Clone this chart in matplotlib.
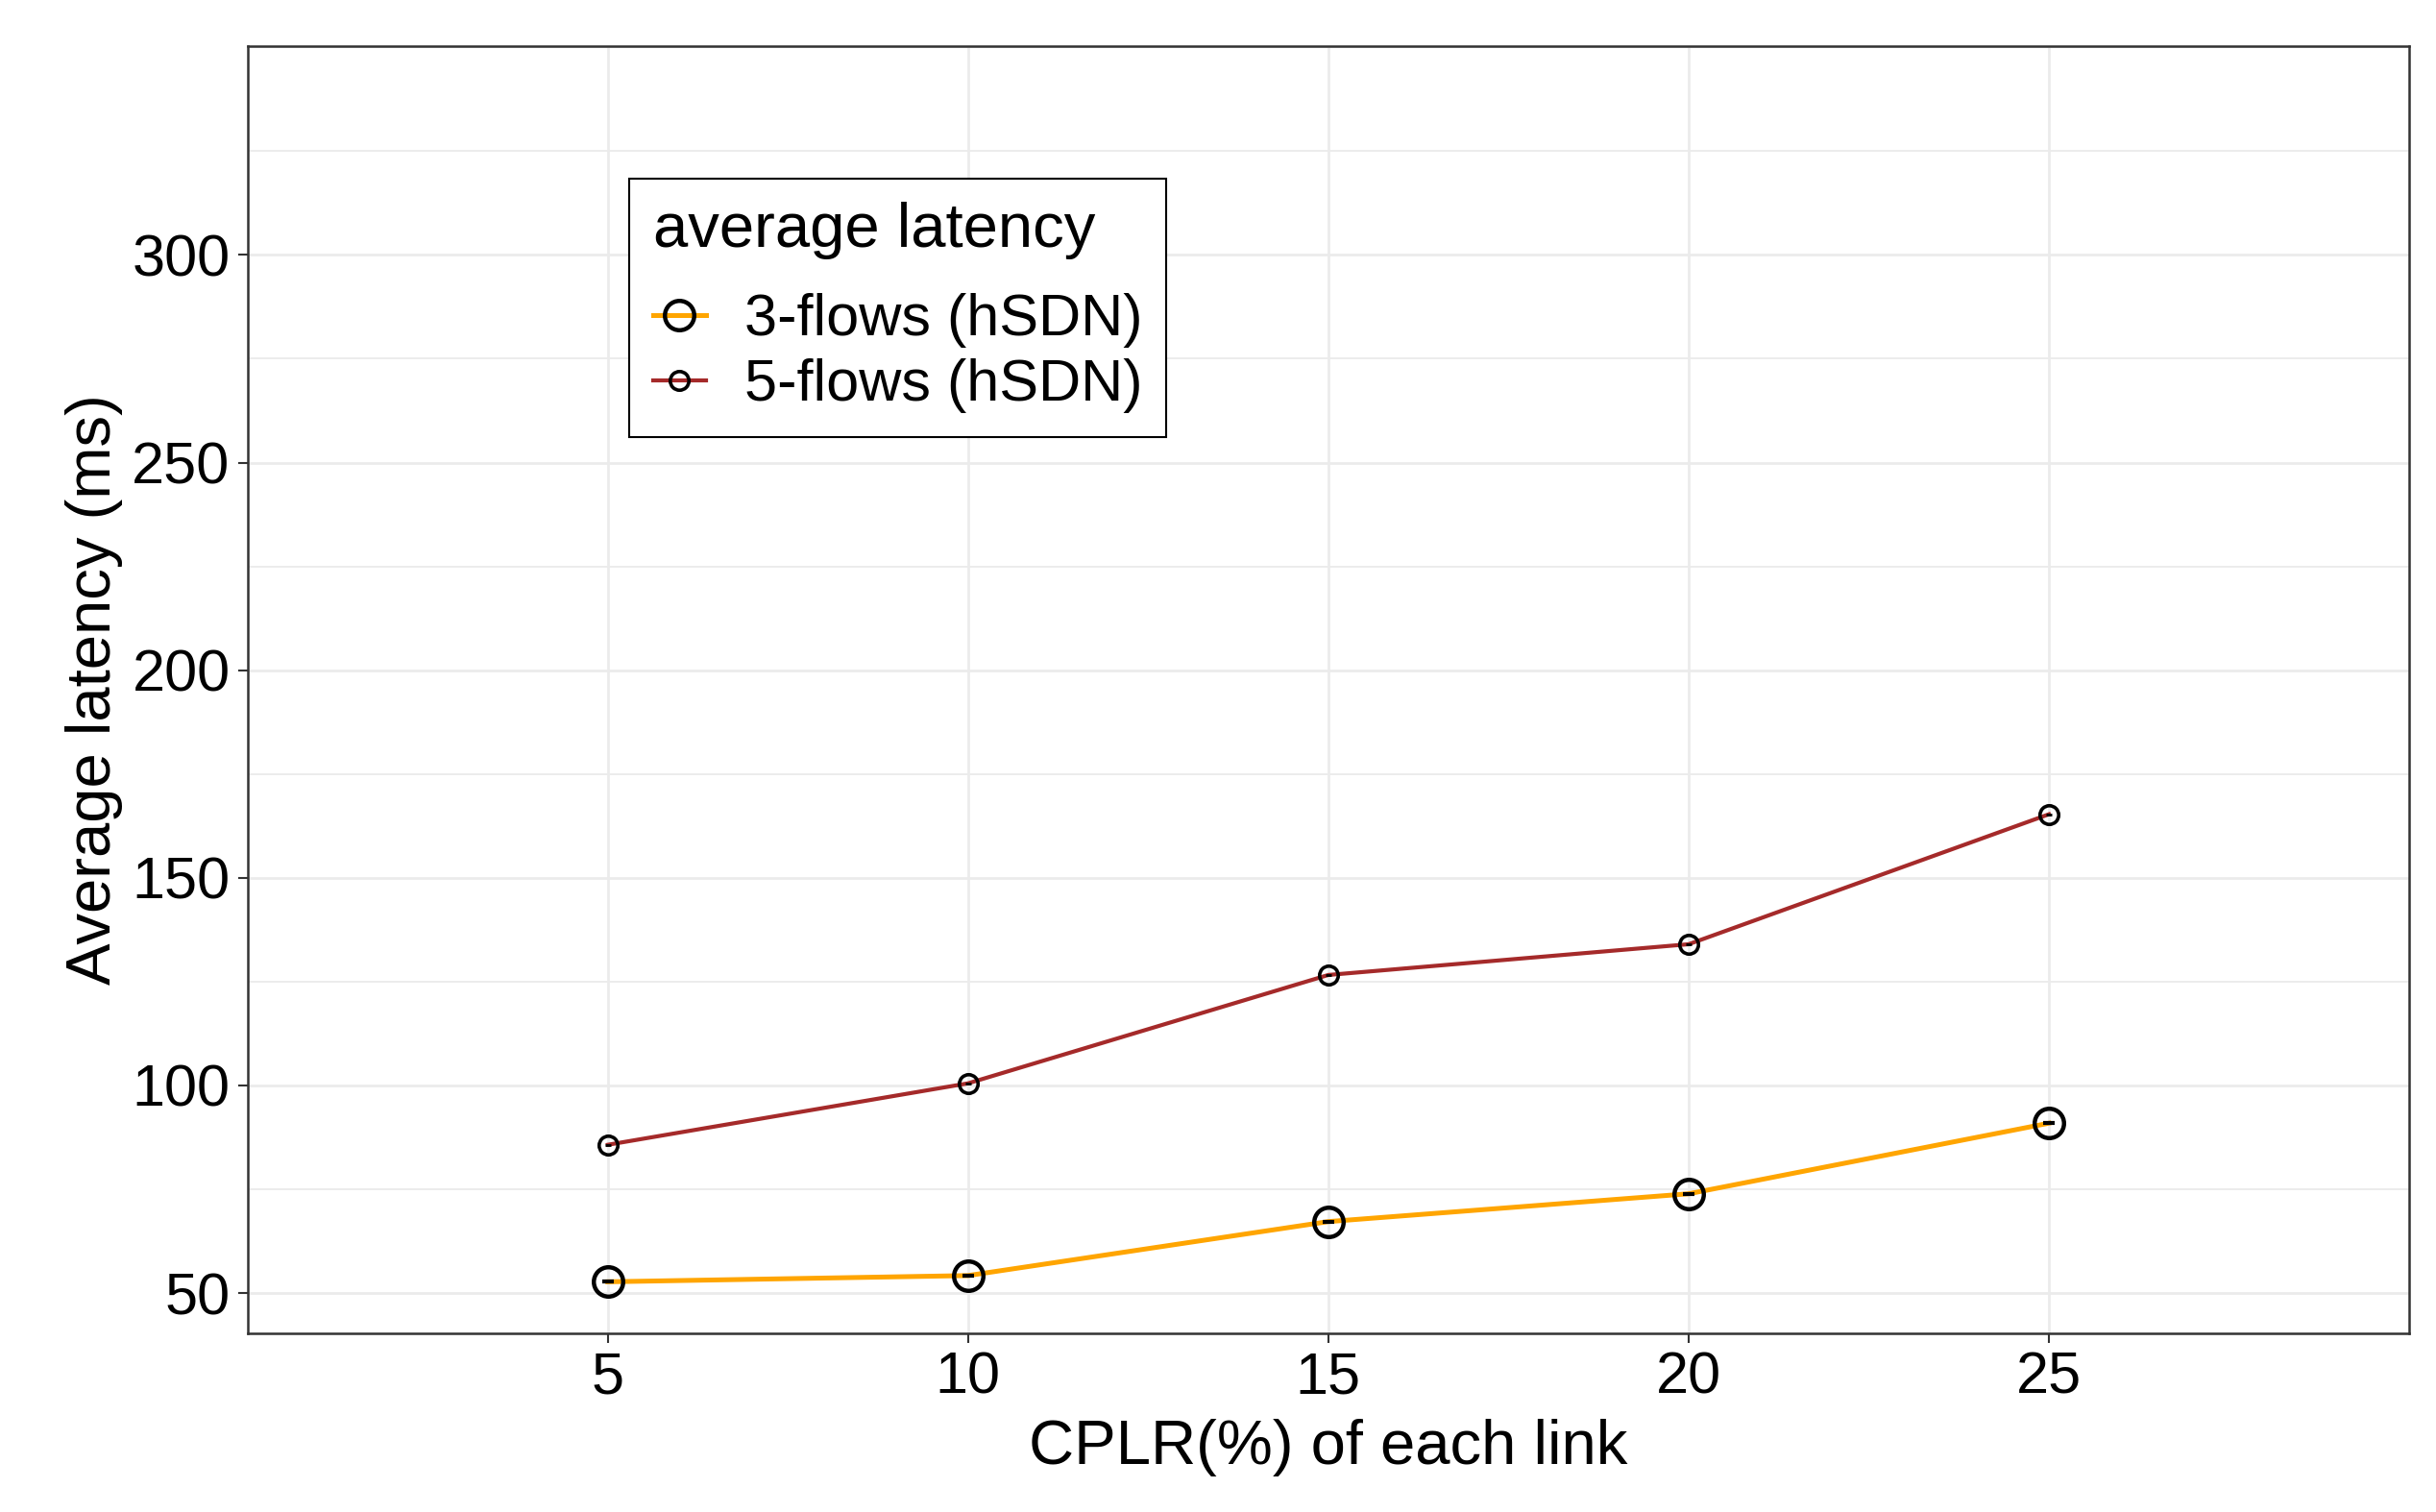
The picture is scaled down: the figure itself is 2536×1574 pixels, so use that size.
import matplotlib
matplotlib.use("Agg")
import matplotlib.pyplot as plt
from matplotlib.ticker import MultipleLocator

# CPLR (%) per link and average latency (ms)
cplr = [5, 10, 15, 20, 25]
lat_3flows = [52.7, 54.2, 67.2, 73.9, 90.9]
lat_5flows = [85.7, 100.5, 126.6, 134.0, 165.3]

series_names = ["3-flows (hSDN)", "5-flows (hSDN)"]
legend_title = "average latency"

plt.rcParams["font.family"] = ["Liberation Sans", "DejaVu Sans"]

fig = plt.figure(figsize=(25.36, 15.74), dpi=100)
ax = fig.add_axes([0.1016, 0.1182, 0.8874, 0.8513])

grid_col = "#EBEBEB"
ax.set_xlim(0, 30)
ax.set_ylim(40.3, 350.3)
ax.set_xticks(cplr)
ax.set_yticks([50, 100, 150, 200, 250, 300])
ax.yaxis.set_minor_locator(MultipleLocator(25))
ax.grid(True, which="major", color=grid_col, linewidth=2.0)
ax.grid(True, which="minor", axis="y", color=grid_col, linewidth=1.3)
ax.set_axisbelow(True)
ax.tick_params(which="minor", length=0)

ax.tick_params(which="major", length=7, width=1.5, color="#333333",
               labelsize=44, labelcolor="black", pad=6)
for sp in ax.spines.values():
    sp.set_color("#333333")
    sp.set_linewidth(1.8)

ax.plot(cplr, lat_3flows, color="orange", linewidth=3.6, zorder=3)
ax.plot(cplr, lat_5flows, color="#A52A2A", linewidth=3.0, zorder=3)
ax.plot(cplr, lat_3flows, linestyle="none", marker="o", markersize=22,
        markerfacecolor="none", markeredgecolor="black", markeredgewidth=3.2, zorder=4)
ax.plot(cplr, lat_5flows, linestyle="none", marker="o", markersize=14,
        markerfacecolor="none", markeredgecolor="black", markeredgewidth=2.6, zorder=4)
ax.plot(cplr, lat_3flows, linestyle="none", marker="_", markersize=8,
        markeredgecolor="black", markeredgewidth=3, zorder=5)
ax.plot(cplr, lat_5flows, linestyle="none", marker="_", markersize=4,
        markeredgecolor="black", markeredgewidth=2, zorder=5)

ax.set_xlabel("CPLR(%) of each link", fontsize=47, labelpad=10)
ax.set_ylabel("Average latency (ms)", fontsize=47, labelpad=7)

# legend handles: line with open circle
h3, = ax.plot([], [], color="orange", linewidth=3.6, marker="o", markersize=22,
              markerfacecolor="none", markeredgecolor="black", markeredgewidth=3.2)
h5, = ax.plot([], [], color="#A52A2A", linewidth=3.0, marker="o", markersize=14,
              markerfacecolor="none", markeredgecolor="black", markeredgewidth=2.6)
leg = ax.legend([h3, h5], series_names, title=legend_title, loc="upper left",
                bbox_to_anchor=(0.1766, 0.897), fontsize=44, title_fontsize=47,
                frameon=True, fancybox=False, edgecolor="black", framealpha=1,
                handlelength=0.9, handletextpad=0.66, labelspacing=0.18,
                borderpad=0.4, borderaxespad=0)
leg.get_frame().set_linewidth(1.5)
leg._legend_box.align = "left"
leg._legend_box.sep = 25  # extra gap between title and entries

fig.savefig("out.png", dpi=100)
